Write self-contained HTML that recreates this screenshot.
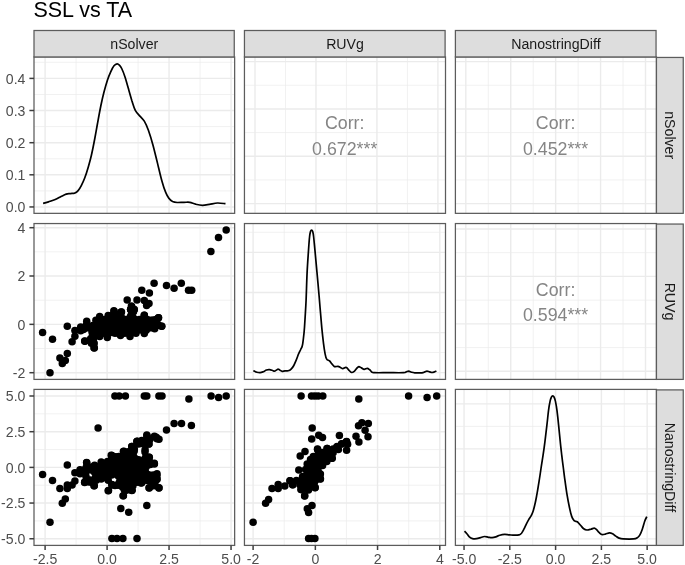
<!DOCTYPE html>
<html lang="en"><head><meta charset="utf-8"><title>SSL vs TA</title>
<style>html,body{margin:0;padding:0;background:#fff}svg{display:block}text{font-family:"Liberation Sans", Arial, Helvetica, sans-serif}
.ax{font-size:14.1px;fill:#4D4D4D}.st{font-size:14.15px;fill:#1A1A1A}.co{font-size:17.8px;fill:#858585}.ti{font-size:21.5px;fill:#000}
.gM{stroke:#EBEBEB;stroke-width:1.4}.gm{stroke:#EBEBEB;stroke-width:0.7}.tk{stroke:#3d3d3d;stroke-width:1.5}.bd{fill:none;stroke:#5c5c5c;stroke-width:1.25}.sb{fill:#DDDDDD;stroke:#5c5c5c;stroke-width:1.25}.cv{fill:none;stroke:#000;stroke-width:1.7;stroke-linejoin:round;stroke-linecap:butt}.pt circle{r:3.75px}
</style></head><body>
<svg width="685" height="565" viewBox="0 0 685 565">
<g>
<rect width="685" height="565" fill="#fff"/>
<text class="ti" x="33.4" y="17.2">SSL vs TA</text>
<g>
<rect x="34.00" y="56.95" width="200.65" height="156.40" fill="#fff"/>
<line class="gm" x1="34.00" x2="234.65" y1="190.90" y2="190.90"/>
<line class="gm" x1="34.00" x2="234.65" y1="158.75" y2="158.75"/>
<line class="gm" x1="34.00" x2="234.65" y1="126.60" y2="126.60"/>
<line class="gm" x1="34.00" x2="234.65" y1="94.50" y2="94.50"/>
<line class="gm" x1="34.00" x2="234.65" y1="62.30" y2="62.30"/>
<line class="gm" x1="76.10" x2="76.10" y1="56.95" y2="213.35"/>
<line class="gm" x1="138.10" x2="138.10" y1="56.95" y2="213.35"/>
<line class="gm" x1="200.05" x2="200.05" y1="56.95" y2="213.35"/>
<line class="gM" x1="34.00" x2="234.65" y1="206.95" y2="206.95"/>
<line class="gM" x1="34.00" x2="234.65" y1="174.80" y2="174.80"/>
<line class="gM" x1="34.00" x2="234.65" y1="142.70" y2="142.70"/>
<line class="gM" x1="34.00" x2="234.65" y1="110.50" y2="110.50"/>
<line class="gM" x1="34.00" x2="234.65" y1="78.40" y2="78.40"/>
<line class="gM" x1="45.10" x2="45.10" y1="56.95" y2="213.35"/>
<line class="gM" x1="107.10" x2="107.10" y1="56.95" y2="213.35"/>
<line class="gM" x1="169.05" x2="169.05" y1="56.95" y2="213.35"/>
<line class="gM" x1="231.05" x2="231.05" y1="56.95" y2="213.35"/>
<path class="cv" d="M43.1 203.4C44.0 203.2 46.5 202.6 48.5 201.9C50.5 201.2 53.1 200.4 55.2 199.5C57.3 198.6 59.3 197.4 61.1 196.5C62.9 195.6 64.7 194.6 66.2 194.1C67.8 193.6 69.0 193.8 70.4 193.6C71.8 193.4 73.3 193.5 74.6 193.1C75.8 192.7 76.8 192.2 77.9 190.9C79.0 189.7 80.2 187.8 81.3 185.6C82.4 183.4 83.6 180.9 84.7 178.0C85.8 175.1 86.9 171.7 88.0 167.9C89.1 164.1 90.3 160.2 91.4 155.3C92.5 150.4 93.8 143.8 94.8 138.5C95.8 133.2 96.5 129.0 97.5 123.5C98.5 118.0 99.8 110.8 100.9 105.5C102.0 100.2 102.9 96.2 104.0 92.0C105.1 87.8 106.3 83.6 107.4 80.2C108.5 76.8 109.6 74.2 110.7 71.8C111.8 69.4 112.9 67.1 114.0 65.8C115.1 64.5 116.2 64.0 117.1 63.9C118.0 63.8 118.8 64.5 119.6 65.3C120.4 66.1 120.8 66.6 121.7 68.5C122.6 70.4 123.9 73.6 125.0 76.9C126.1 80.2 127.3 84.7 128.4 88.6C129.5 92.5 130.7 96.8 131.8 100.4C133.0 104.0 133.9 107.6 135.3 110.3C136.7 113.0 138.7 114.6 140.2 116.4C141.7 118.2 142.9 118.8 144.3 121.1C145.7 123.4 147.0 126.3 148.4 130.3C149.8 134.3 151.5 139.6 153.0 145.2C154.5 150.8 156.1 157.4 157.6 163.6C159.1 169.8 160.8 177.3 162.2 182.1C163.5 186.9 164.5 189.7 165.7 192.4C166.8 195.2 167.9 197.1 169.1 198.6C170.2 200.1 171.2 200.9 172.6 201.6C173.9 202.2 175.3 202.4 177.2 202.5C179.1 202.6 182.0 202.3 184.1 202.3C186.2 202.3 187.9 202.0 189.8 202.3C191.7 202.6 193.5 203.7 195.6 204.2C197.7 204.7 200.2 205.3 202.5 205.3C204.8 205.3 206.9 204.8 209.4 204.4C211.9 204.0 214.8 203.1 217.5 203.0C220.2 202.9 224.2 203.6 225.5 203.7"/>
<rect class="bd" x="34.00" y="56.95" width="200.65" height="156.40"/>
</g>
<g>
<rect x="244.45" y="56.95" width="201.05" height="156.40" fill="#fff"/>
<line class="gm" x1="244.45" x2="445.50" y1="85.27" y2="85.27"/>
<line class="gm" x1="244.45" x2="445.50" y1="132.60" y2="132.60"/>
<line class="gm" x1="244.45" x2="445.50" y1="179.93" y2="179.93"/>
<line class="gm" x1="285.48" x2="285.48" y1="56.95" y2="213.35"/>
<line class="gm" x1="346.45" x2="346.45" y1="56.95" y2="213.35"/>
<line class="gm" x1="407.42" x2="407.42" y1="56.95" y2="213.35"/>
<line class="gM" x1="244.45" x2="445.50" y1="61.60" y2="61.60"/>
<line class="gM" x1="244.45" x2="445.50" y1="108.93" y2="108.93"/>
<line class="gM" x1="244.45" x2="445.50" y1="156.27" y2="156.27"/>
<line class="gM" x1="244.45" x2="445.50" y1="203.60" y2="203.60"/>
<line class="gM" x1="255.00" x2="255.00" y1="56.95" y2="213.35"/>
<line class="gM" x1="315.97" x2="315.97" y1="56.95" y2="213.35"/>
<line class="gM" x1="376.93" x2="376.93" y1="56.95" y2="213.35"/>
<line class="gM" x1="437.90" x2="437.90" y1="56.95" y2="213.35"/>
<text class="co" text-anchor="middle" x="344.7" y="129.2">Corr:</text>
<text class="co" text-anchor="middle" x="344.7" y="154.7">0.672***</text>
<rect class="bd" x="244.45" y="56.95" width="201.05" height="156.40"/>
</g>
<g>
<rect x="455.40" y="56.95" width="201.05" height="156.40" fill="#fff"/>
<line class="gm" x1="455.40" x2="656.45" y1="85.27" y2="85.27"/>
<line class="gm" x1="455.40" x2="656.45" y1="132.60" y2="132.60"/>
<line class="gm" x1="455.40" x2="656.45" y1="179.93" y2="179.93"/>
<line class="gm" x1="488.26" x2="488.26" y1="56.95" y2="213.35"/>
<line class="gm" x1="533.19" x2="533.19" y1="56.95" y2="213.35"/>
<line class="gm" x1="578.11" x2="578.11" y1="56.95" y2="213.35"/>
<line class="gm" x1="623.04" x2="623.04" y1="56.95" y2="213.35"/>
<line class="gM" x1="455.40" x2="656.45" y1="61.60" y2="61.60"/>
<line class="gM" x1="455.40" x2="656.45" y1="108.93" y2="108.93"/>
<line class="gM" x1="455.40" x2="656.45" y1="156.27" y2="156.27"/>
<line class="gM" x1="455.40" x2="656.45" y1="203.60" y2="203.60"/>
<line class="gM" x1="465.80" x2="465.80" y1="56.95" y2="213.35"/>
<line class="gM" x1="510.73" x2="510.73" y1="56.95" y2="213.35"/>
<line class="gM" x1="555.65" x2="555.65" y1="56.95" y2="213.35"/>
<line class="gM" x1="600.58" x2="600.58" y1="56.95" y2="213.35"/>
<line class="gM" x1="645.50" x2="645.50" y1="56.95" y2="213.35"/>
<text class="co" text-anchor="middle" x="555.6" y="129.2">Corr:</text>
<text class="co" text-anchor="middle" x="555.6" y="154.7">0.452***</text>
<rect class="bd" x="455.40" y="56.95" width="201.05" height="156.40"/>
</g>
<g>
<rect x="34.00" y="223.55" width="200.65" height="155.85" fill="#fff"/>
<line class="gm" x1="34.00" x2="234.65" y1="251.85" y2="251.85"/>
<line class="gm" x1="34.00" x2="234.65" y1="300.20" y2="300.20"/>
<line class="gm" x1="34.00" x2="234.65" y1="348.50" y2="348.50"/>
<line class="gm" x1="76.10" x2="76.10" y1="223.55" y2="379.40"/>
<line class="gm" x1="138.10" x2="138.10" y1="223.55" y2="379.40"/>
<line class="gm" x1="200.05" x2="200.05" y1="223.55" y2="379.40"/>
<line class="gM" x1="34.00" x2="234.65" y1="227.70" y2="227.70"/>
<line class="gM" x1="34.00" x2="234.65" y1="276.00" y2="276.00"/>
<line class="gM" x1="34.00" x2="234.65" y1="324.35" y2="324.35"/>
<line class="gM" x1="34.00" x2="234.65" y1="372.70" y2="372.70"/>
<line class="gM" x1="45.10" x2="45.10" y1="223.55" y2="379.40"/>
<line class="gM" x1="107.10" x2="107.10" y1="223.55" y2="379.40"/>
<line class="gM" x1="169.05" x2="169.05" y1="223.55" y2="379.40"/>
<line class="gM" x1="231.05" x2="231.05" y1="223.55" y2="379.40"/>
<g class="pt" fill="#000"><circle cx="133.5" cy="311.8" r="3.75"/><circle cx="113.2" cy="314.7" r="3.75"/><circle cx="116.2" cy="314.4" r="3.75"/><circle cx="119.2" cy="315.1" r="3.75"/><circle cx="131.2" cy="315.0" r="3.75"/><circle cx="109.2" cy="317.0" r="3.75"/><circle cx="112.2" cy="317.7" r="3.75"/><circle cx="115.2" cy="317.4" r="3.75"/><circle cx="118.2" cy="317.1" r="3.75"/><circle cx="121.2" cy="316.8" r="3.75"/><circle cx="130.2" cy="317.0" r="3.75"/><circle cx="133.2" cy="317.7" r="3.75"/><circle cx="102.0" cy="319.7" r="3.75"/><circle cx="105.0" cy="319.4" r="3.75"/><circle cx="108.0" cy="320.2" r="3.75"/><circle cx="111.0" cy="319.9" r="3.75"/><circle cx="114.0" cy="319.6" r="3.75"/><circle cx="117.0" cy="320.3" r="3.75"/><circle cx="120.0" cy="320.0" r="3.75"/><circle cx="123.0" cy="319.7" r="3.75"/><circle cx="129.0" cy="320.2" r="3.75"/><circle cx="132.0" cy="319.9" r="3.75"/><circle cx="135.0" cy="319.6" r="3.75"/><circle cx="144.0" cy="319.7" r="3.75"/><circle cx="147.0" cy="319.4" r="3.75"/><circle cx="150.0" cy="320.2" r="3.75"/><circle cx="153.0" cy="319.9" r="3.75"/><circle cx="156.0" cy="319.6" r="3.75"/><circle cx="96.8" cy="322.0" r="3.75"/><circle cx="99.8" cy="322.8" r="3.75"/><circle cx="102.8" cy="322.5" r="3.75"/><circle cx="105.8" cy="322.2" r="3.75"/><circle cx="108.8" cy="322.9" r="3.75"/><circle cx="111.8" cy="322.6" r="3.75"/><circle cx="114.8" cy="322.3" r="3.75"/><circle cx="117.8" cy="322.0" r="3.75"/><circle cx="120.8" cy="322.8" r="3.75"/><circle cx="123.8" cy="322.5" r="3.75"/><circle cx="126.8" cy="322.2" r="3.75"/><circle cx="129.8" cy="322.9" r="3.75"/><circle cx="132.8" cy="322.6" r="3.75"/><circle cx="135.8" cy="322.3" r="3.75"/><circle cx="138.8" cy="322.0" r="3.75"/><circle cx="141.8" cy="322.8" r="3.75"/><circle cx="144.8" cy="322.5" r="3.75"/><circle cx="147.8" cy="322.2" r="3.75"/><circle cx="150.8" cy="322.9" r="3.75"/><circle cx="153.8" cy="322.6" r="3.75"/><circle cx="156.8" cy="322.3" r="3.75"/><circle cx="92.7" cy="325.5" r="3.75"/><circle cx="95.7" cy="325.2" r="3.75"/><circle cx="98.7" cy="324.9" r="3.75"/><circle cx="101.7" cy="324.6" r="3.75"/><circle cx="104.7" cy="325.4" r="3.75"/><circle cx="107.7" cy="325.1" r="3.75"/><circle cx="110.7" cy="324.8" r="3.75"/><circle cx="113.7" cy="325.5" r="3.75"/><circle cx="116.7" cy="325.2" r="3.75"/><circle cx="119.7" cy="324.9" r="3.75"/><circle cx="122.7" cy="324.6" r="3.75"/><circle cx="125.7" cy="325.4" r="3.75"/><circle cx="128.7" cy="325.1" r="3.75"/><circle cx="131.7" cy="324.8" r="3.75"/><circle cx="134.7" cy="325.5" r="3.75"/><circle cx="137.7" cy="325.2" r="3.75"/><circle cx="140.7" cy="324.9" r="3.75"/><circle cx="143.7" cy="324.6" r="3.75"/><circle cx="146.7" cy="325.4" r="3.75"/><circle cx="149.7" cy="325.1" r="3.75"/><circle cx="152.7" cy="324.8" r="3.75"/><circle cx="155.7" cy="325.5" r="3.75"/><circle cx="158.7" cy="325.2" r="3.75"/><circle cx="85.5" cy="328.1" r="3.75"/><circle cx="88.5" cy="327.8" r="3.75"/><circle cx="91.5" cy="327.5" r="3.75"/><circle cx="94.5" cy="327.2" r="3.75"/><circle cx="97.5" cy="328.0" r="3.75"/><circle cx="100.5" cy="327.7" r="3.75"/><circle cx="103.5" cy="327.4" r="3.75"/><circle cx="106.5" cy="328.1" r="3.75"/><circle cx="109.5" cy="327.8" r="3.75"/><circle cx="112.5" cy="327.5" r="3.75"/><circle cx="115.5" cy="327.2" r="3.75"/><circle cx="118.5" cy="328.0" r="3.75"/><circle cx="121.5" cy="327.7" r="3.75"/><circle cx="124.5" cy="327.4" r="3.75"/><circle cx="127.5" cy="328.1" r="3.75"/><circle cx="130.5" cy="327.8" r="3.75"/><circle cx="133.5" cy="327.5" r="3.75"/><circle cx="136.5" cy="327.2" r="3.75"/><circle cx="139.5" cy="328.0" r="3.75"/><circle cx="142.5" cy="327.7" r="3.75"/><circle cx="145.5" cy="327.4" r="3.75"/><circle cx="148.5" cy="328.1" r="3.75"/><circle cx="151.5" cy="327.8" r="3.75"/><circle cx="92.2" cy="330.4" r="3.75"/><circle cx="95.2" cy="330.1" r="3.75"/><circle cx="98.2" cy="329.8" r="3.75"/><circle cx="101.2" cy="330.6" r="3.75"/><circle cx="104.2" cy="330.3" r="3.75"/><circle cx="107.2" cy="330.0" r="3.75"/><circle cx="110.2" cy="330.7" r="3.75"/><circle cx="113.2" cy="330.4" r="3.75"/><circle cx="116.2" cy="330.1" r="3.75"/><circle cx="119.2" cy="329.8" r="3.75"/><circle cx="122.2" cy="330.6" r="3.75"/><circle cx="125.2" cy="330.3" r="3.75"/><circle cx="128.2" cy="330.0" r="3.75"/><circle cx="131.2" cy="330.7" r="3.75"/><circle cx="134.2" cy="330.4" r="3.75"/><circle cx="137.2" cy="330.1" r="3.75"/><circle cx="140.2" cy="329.8" r="3.75"/><circle cx="143.2" cy="330.6" r="3.75"/><circle cx="146.2" cy="330.3" r="3.75"/><circle cx="94.0" cy="333.2" r="3.75"/><circle cx="97.0" cy="332.9" r="3.75"/><circle cx="100.0" cy="332.6" r="3.75"/><circle cx="103.0" cy="333.3" r="3.75"/><circle cx="106.0" cy="333.0" r="3.75"/><circle cx="109.0" cy="332.7" r="3.75"/><circle cx="112.0" cy="332.4" r="3.75"/><circle cx="115.0" cy="333.2" r="3.75"/><circle cx="118.0" cy="332.9" r="3.75"/><circle cx="121.0" cy="332.6" r="3.75"/><circle cx="124.0" cy="333.3" r="3.75"/><circle cx="127.0" cy="333.0" r="3.75"/><circle cx="130.0" cy="332.7" r="3.75"/><circle cx="133.0" cy="332.4" r="3.75"/><circle cx="136.0" cy="333.2" r="3.75"/><circle cx="93.0" cy="335.3" r="3.75"/><circle cx="96.0" cy="335.0" r="3.75"/><circle cx="90.8" cy="338.4" r="3.75"/><circle cx="93.8" cy="338.1" r="3.75"/><circle cx="89.5" cy="340.5" r="3.75"/><circle cx="92.5" cy="340.2" r="3.75"/><circle cx="91.4" cy="343.3" r="3.75"/><circle cx="80.7" cy="326.9" r="3.75"/><circle cx="86.4" cy="325.0" r="3.75"/><circle cx="95.9" cy="320.3" r="3.75"/><circle cx="99.7" cy="316.5" r="3.75"/><circle cx="108.2" cy="315.5" r="3.75"/><circle cx="113.9" cy="310.8" r="3.75"/><circle cx="121.5" cy="312.1" r="3.75"/><circle cx="125.4" cy="319.5" r="3.75"/><circle cx="130.6" cy="309.6" r="3.75"/><circle cx="134.2" cy="309.5" r="3.75"/><circle cx="139.3" cy="319.6" r="3.75"/><circle cx="144.3" cy="315.2" r="3.75"/><circle cx="158.5" cy="317.8" r="3.75"/><circle cx="161.7" cy="326.2" r="3.75"/><circle cx="154.7" cy="328.8" r="3.75"/><circle cx="144.3" cy="333.6" r="3.75"/><circle cx="130.0" cy="336.4" r="3.75"/><circle cx="120.5" cy="335.5" r="3.75"/><circle cx="107.3" cy="337.4" r="3.75"/><circle cx="99.7" cy="336.4" r="3.75"/><circle cx="94.0" cy="343.1" r="3.75"/><circle cx="94.0" cy="347.8" r="3.75"/><circle cx="84.9" cy="341.2" r="3.75"/><circle cx="92.1" cy="332.6" r="3.75"/><circle cx="80.7" cy="330.7" r="3.75"/><circle cx="42.6" cy="332.4" r="3.75"/><circle cx="52.5" cy="339.3" r="3.75"/><circle cx="67.3" cy="326.2" r="3.75"/><circle cx="74.9" cy="330.4" r="3.75"/><circle cx="74.9" cy="336.3" r="3.75"/><circle cx="72.1" cy="341.8" r="3.75"/><circle cx="67.3" cy="353.6" r="3.75"/><circle cx="59.9" cy="358.1" r="3.75"/><circle cx="65.3" cy="360.6" r="3.75"/><circle cx="62.3" cy="363.5" r="3.75"/><circle cx="50.0" cy="372.8" r="3.75"/><circle cx="86.7" cy="321.3" r="3.75"/><circle cx="83.5" cy="329.5" r="3.75"/><circle cx="84.7" cy="341.0" r="3.75"/><circle cx="94.3" cy="348.0" r="3.75"/><circle cx="93.9" cy="343.8" r="3.75"/><circle cx="127.2" cy="300.1" r="3.75"/><circle cx="137.0" cy="300.1" r="3.75"/><circle cx="131.8" cy="306.8" r="3.75"/><circle cx="114.1" cy="311.5" r="3.75"/><circle cx="154.1" cy="283.3" r="3.75"/><circle cx="166.5" cy="285.6" r="3.75"/><circle cx="174.1" cy="288.2" r="3.75"/><circle cx="181.3" cy="283.3" r="3.75"/><circle cx="188.5" cy="290.3" r="3.75"/><circle cx="191.7" cy="290.3" r="3.75"/><circle cx="141.8" cy="290.3" r="3.75"/><circle cx="149.4" cy="293.0" r="3.75"/><circle cx="144.3" cy="300.4" r="3.75"/><circle cx="149.0" cy="303.6" r="3.75"/><circle cx="146.6" cy="305.5" r="3.75"/><circle cx="131.4" cy="306.1" r="3.75"/><circle cx="134.2" cy="309.5" r="3.75"/><circle cx="130.6" cy="309.6" r="3.75"/><circle cx="121.1" cy="312.1" r="3.75"/><circle cx="144.3" cy="315.2" r="3.75"/><circle cx="158.5" cy="317.8" r="3.75"/><circle cx="161.7" cy="326.2" r="3.75"/><circle cx="226.2" cy="230.1" r="3.75"/><circle cx="218.5" cy="237.5" r="3.75"/><circle cx="210.9" cy="251.6" r="3.75"/></g>
<rect class="bd" x="34.00" y="223.55" width="200.65" height="155.85"/>
</g>
<g>
<rect x="244.45" y="223.55" width="201.05" height="155.85" fill="#fff"/>
<line class="gm" x1="244.45" x2="445.50" y1="352.50" y2="352.50"/>
<line class="gm" x1="244.45" x2="445.50" y1="312.50" y2="312.50"/>
<line class="gm" x1="244.45" x2="445.50" y1="272.40" y2="272.40"/>
<line class="gm" x1="244.45" x2="445.50" y1="232.30" y2="232.30"/>
<line class="gm" x1="284.20" x2="284.20" y1="223.55" y2="379.40"/>
<line class="gm" x1="346.45" x2="346.45" y1="223.55" y2="379.40"/>
<line class="gm" x1="408.70" x2="408.70" y1="223.55" y2="379.40"/>
<line class="gM" x1="244.45" x2="445.50" y1="372.60" y2="372.60"/>
<line class="gM" x1="244.45" x2="445.50" y1="332.60" y2="332.60"/>
<line class="gM" x1="244.45" x2="445.50" y1="292.50" y2="292.50"/>
<line class="gM" x1="244.45" x2="445.50" y1="252.40" y2="252.40"/>
<line class="gM" x1="253.10" x2="253.10" y1="223.55" y2="379.40"/>
<line class="gM" x1="315.35" x2="315.35" y1="223.55" y2="379.40"/>
<line class="gM" x1="377.55" x2="377.55" y1="223.55" y2="379.40"/>
<line class="gM" x1="439.80" x2="439.80" y1="223.55" y2="379.40"/>
<path class="cv" d="M253.3 370.7C253.9 371.0 255.8 372.0 256.9 372.3C258.0 372.6 259.0 372.8 260.1 372.7C261.2 372.6 262.2 372.2 263.3 371.8C264.4 371.4 265.4 370.4 266.5 370.0C267.6 369.6 268.8 369.6 269.7 369.7C270.6 369.8 271.3 370.1 272.1 370.3C272.9 370.5 273.8 371.2 274.5 371.1C275.2 371.1 276.0 370.3 276.6 370.0C277.2 369.7 277.6 369.1 278.2 369.2C278.8 369.2 279.5 369.9 280.1 370.3C280.8 370.7 281.3 371.2 282.1 371.3C282.9 371.4 284.0 370.9 285.0 370.8C286.0 370.7 287.2 371.1 288.2 370.8C289.2 370.5 290.2 370.0 291.1 369.1C292.0 368.2 293.0 367.0 293.8 365.5C294.6 364.0 295.4 362.1 296.2 360.2C297.0 358.2 297.9 355.6 298.6 353.8C299.4 352.0 300.1 350.8 300.7 349.5C301.3 348.2 301.9 347.6 302.3 345.8C302.8 344.0 303.0 341.6 303.4 338.5C303.8 335.4 304.2 331.6 304.5 327.3C304.8 323.0 305.1 317.4 305.4 312.8C305.7 308.2 305.8 306.7 306.1 300.0C306.4 293.3 306.7 280.6 307.1 272.6C307.5 264.6 308.0 257.9 308.4 251.9C308.8 245.9 309.2 239.9 309.6 236.5C310.0 233.1 310.3 232.3 310.6 231.2C310.9 230.1 311.3 230.0 311.6 230.0C311.9 230.0 312.3 230.1 312.6 231.2C312.9 232.3 313.2 233.1 313.6 236.5C314.0 239.9 314.5 245.9 315.1 251.9C315.7 257.9 316.3 265.2 317.0 272.6C317.7 280.0 318.5 289.3 319.1 296.0C319.7 302.7 320.0 307.3 320.5 312.8C321.0 318.3 321.4 323.8 321.9 328.9C322.4 334.0 323.0 339.2 323.5 343.4C324.0 347.5 324.6 351.2 325.1 353.8C325.6 356.4 325.9 357.9 326.7 359.1C327.4 360.3 328.7 360.2 329.6 361.0C330.5 361.8 331.1 363.0 331.9 363.9C332.7 364.8 333.4 366.2 334.4 366.6C335.4 367.0 337.0 366.2 338.0 366.3C339.0 366.4 339.6 367.0 340.4 367.4C341.2 367.8 341.9 368.6 342.8 368.6C343.8 368.6 345.1 367.1 346.1 367.4C347.1 367.6 347.9 369.2 348.8 370.1C349.7 371.0 350.7 372.3 351.6 372.5C352.6 372.7 353.6 371.8 354.5 371.1C355.4 370.4 356.2 368.9 356.9 368.2C357.6 367.4 358.1 366.7 358.9 366.6C359.6 366.6 360.5 367.4 361.4 367.9C362.3 368.3 363.1 369.2 364.1 369.3C365.1 369.4 366.4 368.2 367.3 368.3C368.2 368.4 368.9 369.2 369.7 369.8C370.5 370.4 371.3 371.7 372.1 372.2C372.9 372.7 371.8 372.6 374.5 372.7C377.2 372.8 383.4 372.7 388.2 372.7C393.0 372.7 400.4 372.8 403.4 372.7C406.4 372.6 405.3 372.2 406.2 371.9C407.1 371.6 407.8 371.1 408.7 371.1C409.6 371.2 410.5 371.9 411.5 372.2C412.5 372.5 413.0 372.7 414.7 372.8C416.4 372.9 420.2 373.0 421.9 372.8C423.6 372.6 423.9 372.2 424.8 371.9C425.7 371.6 426.2 371.1 427.0 371.1C427.8 371.1 428.8 371.7 429.6 371.9C430.4 372.1 431.1 372.5 431.9 372.5C432.7 372.5 433.6 372.2 434.4 371.9C435.1 371.6 436.1 371.1 436.4 370.9"/>
<rect class="bd" x="244.45" y="223.55" width="201.05" height="155.85"/>
</g>
<g>
<rect x="455.40" y="223.55" width="201.05" height="155.85" fill="#fff"/>
<line class="gm" x1="455.40" x2="656.45" y1="252.67" y2="252.67"/>
<line class="gm" x1="455.40" x2="656.45" y1="300.12" y2="300.12"/>
<line class="gm" x1="455.40" x2="656.45" y1="347.58" y2="347.58"/>
<line class="gm" x1="488.26" x2="488.26" y1="223.55" y2="379.40"/>
<line class="gm" x1="533.19" x2="533.19" y1="223.55" y2="379.40"/>
<line class="gm" x1="578.11" x2="578.11" y1="223.55" y2="379.40"/>
<line class="gm" x1="623.04" x2="623.04" y1="223.55" y2="379.40"/>
<line class="gM" x1="455.40" x2="656.45" y1="228.95" y2="228.95"/>
<line class="gM" x1="455.40" x2="656.45" y1="276.40" y2="276.40"/>
<line class="gM" x1="455.40" x2="656.45" y1="323.85" y2="323.85"/>
<line class="gM" x1="455.40" x2="656.45" y1="371.30" y2="371.30"/>
<line class="gM" x1="465.80" x2="465.80" y1="223.55" y2="379.40"/>
<line class="gM" x1="510.73" x2="510.73" y1="223.55" y2="379.40"/>
<line class="gM" x1="555.65" x2="555.65" y1="223.55" y2="379.40"/>
<line class="gM" x1="600.58" x2="600.58" y1="223.55" y2="379.40"/>
<line class="gM" x1="645.50" x2="645.50" y1="223.55" y2="379.40"/>
<text class="co" text-anchor="middle" x="555.6" y="295.6">Corr:</text>
<text class="co" text-anchor="middle" x="555.6" y="321.0">0.594***</text>
<rect class="bd" x="455.40" y="223.55" width="201.05" height="155.85"/>
</g>
<g>
<rect x="34.00" y="389.40" width="200.65" height="156.00" fill="#fff"/>
<line class="gm" x1="34.00" x2="234.65" y1="413.85" y2="413.85"/>
<line class="gm" x1="34.00" x2="234.65" y1="449.55" y2="449.55"/>
<line class="gm" x1="34.00" x2="234.65" y1="485.20" y2="485.20"/>
<line class="gm" x1="34.00" x2="234.65" y1="520.90" y2="520.90"/>
<line class="gm" x1="76.10" x2="76.10" y1="389.40" y2="545.40"/>
<line class="gm" x1="138.10" x2="138.10" y1="389.40" y2="545.40"/>
<line class="gm" x1="200.05" x2="200.05" y1="389.40" y2="545.40"/>
<line class="gM" x1="34.00" x2="234.65" y1="396.00" y2="396.00"/>
<line class="gM" x1="34.00" x2="234.65" y1="431.70" y2="431.70"/>
<line class="gM" x1="34.00" x2="234.65" y1="467.40" y2="467.40"/>
<line class="gM" x1="34.00" x2="234.65" y1="503.05" y2="503.05"/>
<line class="gM" x1="34.00" x2="234.65" y1="538.75" y2="538.75"/>
<line class="gM" x1="45.10" x2="45.10" y1="389.40" y2="545.40"/>
<line class="gM" x1="107.10" x2="107.10" y1="389.40" y2="545.40"/>
<line class="gM" x1="169.05" x2="169.05" y1="389.40" y2="545.40"/>
<line class="gM" x1="231.05" x2="231.05" y1="389.40" y2="545.40"/>
<g class="pt" fill="#000"><circle cx="147.1" cy="438.1" r="3.75"/><circle cx="150.1" cy="438.9" r="3.75"/><circle cx="145.8" cy="441.2" r="3.75"/><circle cx="148.8" cy="440.9" r="3.75"/><circle cx="138.7" cy="443.9" r="3.75"/><circle cx="141.7" cy="443.6" r="3.75"/><circle cx="144.7" cy="443.3" r="3.75"/><circle cx="132.3" cy="449.4" r="3.75"/><circle cx="128.2" cy="451.7" r="3.75"/><circle cx="131.2" cy="451.4" r="3.75"/><circle cx="134.2" cy="451.1" r="3.75"/><circle cx="124.0" cy="454.2" r="3.75"/><circle cx="127.0" cy="453.9" r="3.75"/><circle cx="129.9" cy="454.6" r="3.75"/><circle cx="132.9" cy="454.3" r="3.75"/><circle cx="112.8" cy="457.1" r="3.75"/><circle cx="115.8" cy="456.8" r="3.75"/><circle cx="118.8" cy="456.5" r="3.75"/><circle cx="121.8" cy="457.2" r="3.75"/><circle cx="124.8" cy="456.9" r="3.75"/><circle cx="127.8" cy="456.6" r="3.75"/><circle cx="130.8" cy="456.3" r="3.75"/><circle cx="133.8" cy="457.1" r="3.75"/><circle cx="145.8" cy="456.9" r="3.75"/><circle cx="111.7" cy="459.2" r="3.75"/><circle cx="114.7" cy="458.9" r="3.75"/><circle cx="117.7" cy="459.7" r="3.75"/><circle cx="120.7" cy="459.4" r="3.75"/><circle cx="123.7" cy="459.1" r="3.75"/><circle cx="126.7" cy="459.8" r="3.75"/><circle cx="129.7" cy="459.5" r="3.75"/><circle cx="132.7" cy="459.2" r="3.75"/><circle cx="135.7" cy="458.9" r="3.75"/><circle cx="138.7" cy="459.7" r="3.75"/><circle cx="144.7" cy="459.1" r="3.75"/><circle cx="147.7" cy="459.8" r="3.75"/><circle cx="107.5" cy="461.5" r="3.75"/><circle cx="110.5" cy="462.3" r="3.75"/><circle cx="113.5" cy="462.0" r="3.75"/><circle cx="116.5" cy="461.7" r="3.75"/><circle cx="119.5" cy="462.4" r="3.75"/><circle cx="122.5" cy="462.1" r="3.75"/><circle cx="125.5" cy="461.8" r="3.75"/><circle cx="128.4" cy="461.5" r="3.75"/><circle cx="131.4" cy="462.3" r="3.75"/><circle cx="134.4" cy="462.0" r="3.75"/><circle cx="137.4" cy="461.7" r="3.75"/><circle cx="140.4" cy="462.4" r="3.75"/><circle cx="143.4" cy="462.1" r="3.75"/><circle cx="146.4" cy="461.8" r="3.75"/><circle cx="149.4" cy="461.5" r="3.75"/><circle cx="102.3" cy="465.0" r="3.75"/><circle cx="105.3" cy="464.7" r="3.75"/><circle cx="108.3" cy="464.4" r="3.75"/><circle cx="111.3" cy="464.1" r="3.75"/><circle cx="114.3" cy="464.9" r="3.75"/><circle cx="117.3" cy="464.6" r="3.75"/><circle cx="120.3" cy="464.3" r="3.75"/><circle cx="123.3" cy="465.0" r="3.75"/><circle cx="126.3" cy="464.7" r="3.75"/><circle cx="129.3" cy="464.4" r="3.75"/><circle cx="132.3" cy="464.1" r="3.75"/><circle cx="135.3" cy="464.9" r="3.75"/><circle cx="138.3" cy="464.6" r="3.75"/><circle cx="141.3" cy="464.3" r="3.75"/><circle cx="144.3" cy="465.0" r="3.75"/><circle cx="147.3" cy="464.7" r="3.75"/><circle cx="150.3" cy="464.4" r="3.75"/><circle cx="86.2" cy="467.5" r="3.75"/><circle cx="89.2" cy="467.2" r="3.75"/><circle cx="92.2" cy="466.9" r="3.75"/><circle cx="95.2" cy="467.6" r="3.75"/><circle cx="98.2" cy="467.3" r="3.75"/><circle cx="101.2" cy="467.0" r="3.75"/><circle cx="104.2" cy="466.7" r="3.75"/><circle cx="107.2" cy="467.5" r="3.75"/><circle cx="110.2" cy="467.2" r="3.75"/><circle cx="113.2" cy="466.9" r="3.75"/><circle cx="116.2" cy="467.6" r="3.75"/><circle cx="119.2" cy="467.3" r="3.75"/><circle cx="122.2" cy="467.0" r="3.75"/><circle cx="125.2" cy="466.7" r="3.75"/><circle cx="128.2" cy="467.5" r="3.75"/><circle cx="131.2" cy="467.2" r="3.75"/><circle cx="134.2" cy="466.9" r="3.75"/><circle cx="137.2" cy="467.6" r="3.75"/><circle cx="140.2" cy="467.3" r="3.75"/><circle cx="143.2" cy="467.0" r="3.75"/><circle cx="146.2" cy="466.7" r="3.75"/><circle cx="85.0" cy="469.6" r="3.75"/><circle cx="88.0" cy="469.3" r="3.75"/><circle cx="91.0" cy="470.1" r="3.75"/><circle cx="94.0" cy="469.8" r="3.75"/><circle cx="97.0" cy="469.5" r="3.75"/><circle cx="100.0" cy="470.2" r="3.75"/><circle cx="103.0" cy="469.9" r="3.75"/><circle cx="106.0" cy="469.6" r="3.75"/><circle cx="109.0" cy="469.3" r="3.75"/><circle cx="112.0" cy="470.1" r="3.75"/><circle cx="115.0" cy="469.8" r="3.75"/><circle cx="118.0" cy="469.5" r="3.75"/><circle cx="121.0" cy="470.2" r="3.75"/><circle cx="124.0" cy="469.9" r="3.75"/><circle cx="127.0" cy="469.6" r="3.75"/><circle cx="129.9" cy="469.3" r="3.75"/><circle cx="132.9" cy="470.1" r="3.75"/><circle cx="135.9" cy="469.8" r="3.75"/><circle cx="138.9" cy="469.5" r="3.75"/><circle cx="141.9" cy="470.2" r="3.75"/><circle cx="144.9" cy="469.9" r="3.75"/><circle cx="82.7" cy="472.7" r="3.75"/><circle cx="85.7" cy="472.4" r="3.75"/><circle cx="94.7" cy="472.5" r="3.75"/><circle cx="97.7" cy="472.2" r="3.75"/><circle cx="100.7" cy="471.9" r="3.75"/><circle cx="103.7" cy="472.7" r="3.75"/><circle cx="106.7" cy="472.4" r="3.75"/><circle cx="109.7" cy="472.1" r="3.75"/><circle cx="112.7" cy="472.8" r="3.75"/><circle cx="115.7" cy="472.5" r="3.75"/><circle cx="118.7" cy="472.2" r="3.75"/><circle cx="121.7" cy="471.9" r="3.75"/><circle cx="124.7" cy="472.7" r="3.75"/><circle cx="127.7" cy="472.4" r="3.75"/><circle cx="130.7" cy="472.1" r="3.75"/><circle cx="133.7" cy="472.8" r="3.75"/><circle cx="136.7" cy="472.5" r="3.75"/><circle cx="139.7" cy="472.2" r="3.75"/><circle cx="142.7" cy="471.9" r="3.75"/><circle cx="145.7" cy="472.7" r="3.75"/><circle cx="96.7" cy="475.4" r="3.75"/><circle cx="99.7" cy="475.1" r="3.75"/><circle cx="102.7" cy="474.8" r="3.75"/><circle cx="105.7" cy="474.5" r="3.75"/><circle cx="108.7" cy="475.3" r="3.75"/><circle cx="111.7" cy="475.0" r="3.75"/><circle cx="117.7" cy="475.4" r="3.75"/><circle cx="120.7" cy="475.1" r="3.75"/><circle cx="123.7" cy="474.8" r="3.75"/><circle cx="126.7" cy="474.5" r="3.75"/><circle cx="129.7" cy="475.3" r="3.75"/><circle cx="132.7" cy="475.0" r="3.75"/><circle cx="135.7" cy="474.7" r="3.75"/><circle cx="138.7" cy="475.4" r="3.75"/><circle cx="141.7" cy="475.1" r="3.75"/><circle cx="144.7" cy="474.8" r="3.75"/><circle cx="147.7" cy="474.5" r="3.75"/><circle cx="150.7" cy="475.3" r="3.75"/><circle cx="153.7" cy="475.0" r="3.75"/><circle cx="95.5" cy="477.4" r="3.75"/><circle cx="98.5" cy="477.1" r="3.75"/><circle cx="104.5" cy="477.6" r="3.75"/><circle cx="107.5" cy="477.3" r="3.75"/><circle cx="119.5" cy="477.1" r="3.75"/><circle cx="122.5" cy="477.9" r="3.75"/><circle cx="125.5" cy="477.6" r="3.75"/><circle cx="128.4" cy="477.3" r="3.75"/><circle cx="131.4" cy="478.0" r="3.75"/><circle cx="134.4" cy="477.7" r="3.75"/><circle cx="137.4" cy="477.4" r="3.75"/><circle cx="140.4" cy="477.1" r="3.75"/><circle cx="143.4" cy="477.9" r="3.75"/><circle cx="146.4" cy="477.6" r="3.75"/><circle cx="149.4" cy="477.3" r="3.75"/><circle cx="152.4" cy="478.0" r="3.75"/><circle cx="155.4" cy="477.7" r="3.75"/><circle cx="87.2" cy="480.2" r="3.75"/><circle cx="90.2" cy="479.9" r="3.75"/><circle cx="93.2" cy="480.6" r="3.75"/><circle cx="96.2" cy="480.3" r="3.75"/><circle cx="108.2" cy="480.2" r="3.75"/><circle cx="120.2" cy="480.0" r="3.75"/><circle cx="123.2" cy="479.7" r="3.75"/><circle cx="126.2" cy="480.5" r="3.75"/><circle cx="129.2" cy="480.2" r="3.75"/><circle cx="132.2" cy="479.9" r="3.75"/><circle cx="135.2" cy="480.6" r="3.75"/><circle cx="138.2" cy="480.3" r="3.75"/><circle cx="141.2" cy="480.0" r="3.75"/><circle cx="144.2" cy="479.7" r="3.75"/><circle cx="147.2" cy="480.5" r="3.75"/><circle cx="153.2" cy="479.9" r="3.75"/><circle cx="92.0" cy="482.6" r="3.75"/><circle cx="119.0" cy="483.1" r="3.75"/><circle cx="122.0" cy="482.8" r="3.75"/><circle cx="125.0" cy="482.5" r="3.75"/><circle cx="128.0" cy="483.2" r="3.75"/><circle cx="131.0" cy="482.9" r="3.75"/><circle cx="134.0" cy="482.6" r="3.75"/><circle cx="137.0" cy="482.3" r="3.75"/><circle cx="155.0" cy="482.6" r="3.75"/><circle cx="115.0" cy="485.5" r="3.75"/><circle cx="118.0" cy="485.2" r="3.75"/><circle cx="121.0" cy="484.9" r="3.75"/><circle cx="127.0" cy="485.4" r="3.75"/><circle cx="129.9" cy="485.1" r="3.75"/><circle cx="132.9" cy="485.8" r="3.75"/><circle cx="153.9" cy="485.8" r="3.75"/><circle cx="124.7" cy="488.4" r="3.75"/><circle cx="127.7" cy="488.1" r="3.75"/><circle cx="130.7" cy="487.8" r="3.75"/><circle cx="126.5" cy="490.3" r="3.75"/><circle cx="80.0" cy="469.8" r="3.75"/><circle cx="86.6" cy="462.5" r="3.75"/><circle cx="94.6" cy="465.2" r="3.75"/><circle cx="101.2" cy="461.9" r="3.75"/><circle cx="111.2" cy="455.2" r="3.75"/><circle cx="123.8" cy="451.2" r="3.75"/><circle cx="131.8" cy="446.6" r="3.75"/><circle cx="137.1" cy="441.3" r="3.75"/><circle cx="141.7" cy="440.6" r="3.75"/><circle cx="147.0" cy="436.0" r="3.75"/><circle cx="156.3" cy="437.3" r="3.75"/><circle cx="159.0" cy="439.3" r="3.75"/><circle cx="149.0" cy="444.0" r="3.75"/><circle cx="145.0" cy="452.0" r="3.75"/><circle cx="149.0" cy="457.2" r="3.75"/><circle cx="154.3" cy="463.2" r="3.75"/><circle cx="157.0" cy="473.8" r="3.75"/><circle cx="157.0" cy="479.0" r="3.75"/><circle cx="159.0" cy="487.7" r="3.75"/><circle cx="149.0" cy="487.7" r="3.75"/><circle cx="152.3" cy="481.8" r="3.75"/><circle cx="141.0" cy="483.0" r="3.75"/><circle cx="131.8" cy="490.4" r="3.75"/><circle cx="123.1" cy="495.7" r="3.75"/><circle cx="122.5" cy="487.0" r="3.75"/><circle cx="108.5" cy="490.4" r="3.75"/><circle cx="111.9" cy="484.4" r="3.75"/><circle cx="101.2" cy="479.0" r="3.75"/><circle cx="94.0" cy="485.8" r="3.75"/><circle cx="84.6" cy="482.4" r="3.75"/><circle cx="86.0" cy="476.5" r="3.75"/><circle cx="80.0" cy="473.8" r="3.75"/><circle cx="114.9" cy="396.1" r="3.75"/><circle cx="119.2" cy="396.1" r="3.75"/><circle cx="125.4" cy="396.1" r="3.75"/><circle cx="98.1" cy="428.1" r="3.75"/><circle cx="137.0" cy="441.4" r="3.75"/><circle cx="67.3" cy="464.9" r="3.75"/><circle cx="42.6" cy="474.5" r="3.75"/><circle cx="86.7" cy="462.7" r="3.75"/><circle cx="74.9" cy="472.8" r="3.75"/><circle cx="131.8" cy="446.4" r="3.75"/><circle cx="134.3" cy="448.9" r="3.75"/><circle cx="111.9" cy="455.6" r="3.75"/><circle cx="101.5" cy="463.2" r="3.75"/><circle cx="123.4" cy="451.4" r="3.75"/><circle cx="52.5" cy="480.6" r="3.75"/><circle cx="74.9" cy="481.1" r="3.75"/><circle cx="72.1" cy="484.9" r="3.75"/><circle cx="67.3" cy="484.9" r="3.75"/><circle cx="67.3" cy="488.6" r="3.75"/><circle cx="59.9" cy="488.6" r="3.75"/><circle cx="65.3" cy="499.1" r="3.75"/><circle cx="62.3" cy="503.3" r="3.75"/><circle cx="50.0" cy="522.3" r="3.75"/><circle cx="83.5" cy="471.8" r="3.75"/><circle cx="84.7" cy="481.9" r="3.75"/><circle cx="88.9" cy="481.9" r="3.75"/><circle cx="94.3" cy="485.8" r="3.75"/><circle cx="108.2" cy="490.7" r="3.75"/><circle cx="111.9" cy="484.9" r="3.75"/><circle cx="121.7" cy="486.1" r="3.75"/><circle cx="124.2" cy="489.5" r="3.75"/><circle cx="131.8" cy="490.3" r="3.75"/><circle cx="123.4" cy="495.7" r="3.75"/><circle cx="120.8" cy="508.5" r="3.75"/><circle cx="128.7" cy="512.2" r="3.75"/><circle cx="111.9" cy="538.6" r="3.75"/><circle cx="117.0" cy="538.6" r="3.75"/><circle cx="122.9" cy="538.6" r="3.75"/><circle cx="137.0" cy="538.6" r="3.75"/><circle cx="144.3" cy="396.1" r="3.75"/><circle cx="146.8" cy="396.1" r="3.75"/><circle cx="158.9" cy="396.1" r="3.75"/><circle cx="162.0" cy="396.1" r="3.75"/><circle cx="188.9" cy="399.1" r="3.75"/><circle cx="211.1" cy="396.1" r="3.75"/><circle cx="218.6" cy="397.4" r="3.75"/><circle cx="226.2" cy="396.1" r="3.75"/><circle cx="174.1" cy="423.4" r="3.75"/><circle cx="181.5" cy="423.4" r="3.75"/><circle cx="191.4" cy="425.5" r="3.75"/><circle cx="166.5" cy="430.1" r="3.75"/><circle cx="146.8" cy="435.1" r="3.75"/><circle cx="154.4" cy="436.3" r="3.75"/><circle cx="156.9" cy="438.8" r="3.75"/><circle cx="137.1" cy="441.4" r="3.75"/><circle cx="142.1" cy="441.9" r="3.75"/><circle cx="148.8" cy="443.9" r="3.75"/><circle cx="133.4" cy="448.6" r="3.75"/><circle cx="145.1" cy="449.8" r="3.75"/><circle cx="149.3" cy="457.3" r="3.75"/><circle cx="154.4" cy="464.1" r="3.75"/><circle cx="156.9" cy="475.8" r="3.75"/><circle cx="156.1" cy="475.2" r="3.75"/><circle cx="156.9" cy="479.4" r="3.75"/><circle cx="158.9" cy="488.0" r="3.75"/><circle cx="149.3" cy="488.0" r="3.75"/><circle cx="141.8" cy="482.8" r="3.75"/><circle cx="132.0" cy="490.3" r="3.75"/><circle cx="146.8" cy="505.5" r="3.75"/></g>
<rect class="bd" x="34.00" y="389.40" width="200.65" height="156.00"/>
</g>
<g>
<rect x="244.45" y="389.40" width="201.05" height="156.00" fill="#fff"/>
<line class="gm" x1="244.45" x2="445.50" y1="413.85" y2="413.85"/>
<line class="gm" x1="244.45" x2="445.50" y1="449.55" y2="449.55"/>
<line class="gm" x1="244.45" x2="445.50" y1="485.20" y2="485.20"/>
<line class="gm" x1="244.45" x2="445.50" y1="520.90" y2="520.90"/>
<line class="gm" x1="284.20" x2="284.20" y1="389.40" y2="545.40"/>
<line class="gm" x1="346.45" x2="346.45" y1="389.40" y2="545.40"/>
<line class="gm" x1="408.70" x2="408.70" y1="389.40" y2="545.40"/>
<line class="gM" x1="244.45" x2="445.50" y1="396.00" y2="396.00"/>
<line class="gM" x1="244.45" x2="445.50" y1="431.70" y2="431.70"/>
<line class="gM" x1="244.45" x2="445.50" y1="467.40" y2="467.40"/>
<line class="gM" x1="244.45" x2="445.50" y1="503.05" y2="503.05"/>
<line class="gM" x1="244.45" x2="445.50" y1="538.75" y2="538.75"/>
<line class="gM" x1="253.10" x2="253.10" y1="389.40" y2="545.40"/>
<line class="gM" x1="315.35" x2="315.35" y1="389.40" y2="545.40"/>
<line class="gM" x1="377.55" x2="377.55" y1="389.40" y2="545.40"/>
<line class="gM" x1="439.80" x2="439.80" y1="389.40" y2="545.40"/>
<g class="pt" fill="#000"><circle cx="326.3" cy="451.9" r="3.75"/><circle cx="329.3" cy="452.6" r="3.75"/><circle cx="318.1" cy="454.6" r="3.75"/><circle cx="321.1" cy="454.3" r="3.75"/><circle cx="324.1" cy="455.1" r="3.75"/><circle cx="327.1" cy="454.8" r="3.75"/><circle cx="330.1" cy="454.5" r="3.75"/><circle cx="317.0" cy="457.7" r="3.75"/><circle cx="320.0" cy="457.4" r="3.75"/><circle cx="323.0" cy="457.1" r="3.75"/><circle cx="326.0" cy="457.8" r="3.75"/><circle cx="329.0" cy="457.5" r="3.75"/><circle cx="315.8" cy="459.8" r="3.75"/><circle cx="318.8" cy="459.5" r="3.75"/><circle cx="321.8" cy="460.3" r="3.75"/><circle cx="324.8" cy="460.0" r="3.75"/><circle cx="310.6" cy="462.1" r="3.75"/><circle cx="313.6" cy="462.9" r="3.75"/><circle cx="316.6" cy="462.6" r="3.75"/><circle cx="319.6" cy="462.3" r="3.75"/><circle cx="309.4" cy="465.3" r="3.75"/><circle cx="312.4" cy="465.0" r="3.75"/><circle cx="315.4" cy="464.7" r="3.75"/><circle cx="318.4" cy="465.5" r="3.75"/><circle cx="311.3" cy="468.1" r="3.75"/><circle cx="314.3" cy="467.8" r="3.75"/><circle cx="317.3" cy="467.5" r="3.75"/><circle cx="309.1" cy="470.2" r="3.75"/><circle cx="312.1" cy="469.9" r="3.75"/><circle cx="315.1" cy="470.7" r="3.75"/><circle cx="318.1" cy="470.4" r="3.75"/><circle cx="307.9" cy="473.3" r="3.75"/><circle cx="310.9" cy="473.0" r="3.75"/><circle cx="313.9" cy="472.7" r="3.75"/><circle cx="316.9" cy="473.4" r="3.75"/><circle cx="306.6" cy="475.4" r="3.75"/><circle cx="309.6" cy="475.1" r="3.75"/><circle cx="312.6" cy="475.9" r="3.75"/><circle cx="315.6" cy="475.6" r="3.75"/><circle cx="304.6" cy="478.5" r="3.75"/><circle cx="307.6" cy="478.2" r="3.75"/><circle cx="310.6" cy="477.9" r="3.75"/><circle cx="313.6" cy="478.6" r="3.75"/><circle cx="316.6" cy="478.3" r="3.75"/><circle cx="300.4" cy="480.9" r="3.75"/><circle cx="303.4" cy="480.6" r="3.75"/><circle cx="306.4" cy="480.3" r="3.75"/><circle cx="309.4" cy="481.1" r="3.75"/><circle cx="312.4" cy="480.8" r="3.75"/><circle cx="315.4" cy="480.5" r="3.75"/><circle cx="302.1" cy="483.7" r="3.75"/><circle cx="305.1" cy="483.4" r="3.75"/><circle cx="308.1" cy="483.1" r="3.75"/><circle cx="311.1" cy="483.8" r="3.75"/><circle cx="314.1" cy="483.5" r="3.75"/><circle cx="303.1" cy="485.5" r="3.75"/><circle cx="306.1" cy="486.3" r="3.75"/><circle cx="309.1" cy="486.0" r="3.75"/><circle cx="312.1" cy="485.7" r="3.75"/><circle cx="304.9" cy="488.3" r="3.75"/><circle cx="310.5" cy="459.5" r="3.75"/><circle cx="313.3" cy="456.6" r="3.75"/><circle cx="317.6" cy="449.6" r="3.75"/><circle cx="322.3" cy="452.6" r="3.75"/><circle cx="327.1" cy="448.6" r="3.75"/><circle cx="333.1" cy="448.9" r="3.75"/><circle cx="337.1" cy="446.4" r="3.75"/><circle cx="341.7" cy="443.8" r="3.75"/><circle cx="346.4" cy="441.8" r="3.75"/><circle cx="347.6" cy="444.2" r="3.75"/><circle cx="338.4" cy="449.6" r="3.75"/><circle cx="333.1" cy="452.8" r="3.75"/><circle cx="332.2" cy="458.2" r="3.75"/><circle cx="326.8" cy="461.6" r="3.75"/><circle cx="322.6" cy="465.6" r="3.75"/><circle cx="320.4" cy="474.0" r="3.75"/><circle cx="320.4" cy="478.8" r="3.75"/><circle cx="315.2" cy="487.4" r="3.75"/><circle cx="308.5" cy="490.0" r="3.75"/><circle cx="304.6" cy="496.0" r="3.75"/><circle cx="301.2" cy="489.4" r="3.75"/><circle cx="299.9" cy="484.7" r="3.75"/><circle cx="292.6" cy="484.7" r="3.75"/><circle cx="290.0" cy="480.8" r="3.75"/><circle cx="296.4" cy="480.6" r="3.75"/><circle cx="302.6" cy="476.4" r="3.75"/><circle cx="305.6" cy="469.6" r="3.75"/><circle cx="307.2" cy="464.0" r="3.75"/><circle cx="301.1" cy="396.1" r="3.75"/><circle cx="311.5" cy="396.1" r="3.75"/><circle cx="314.9" cy="396.1" r="3.75"/><circle cx="318.2" cy="396.1" r="3.75"/><circle cx="322.8" cy="396.1" r="3.75"/><circle cx="312.2" cy="427.9" r="3.75"/><circle cx="318.7" cy="435.2" r="3.75"/><circle cx="322.5" cy="437.6" r="3.75"/><circle cx="311.7" cy="439.0" r="3.75"/><circle cx="339.4" cy="435.5" r="3.75"/><circle cx="346.6" cy="441.5" r="3.75"/><circle cx="341.7" cy="443.9" r="3.75"/><circle cx="346.6" cy="450.3" r="3.75"/><circle cx="336.9" cy="447.0" r="3.75"/><circle cx="327.1" cy="448.4" r="3.75"/><circle cx="317.5" cy="449.1" r="3.75"/><circle cx="305.0" cy="451.6" r="3.75"/><circle cx="300.2" cy="456.1" r="3.75"/><circle cx="332.0" cy="458.2" r="3.75"/><circle cx="298.8" cy="470.0" r="3.75"/><circle cx="290.0" cy="480.8" r="3.75"/><circle cx="253.1" cy="522.3" r="3.75"/><circle cx="265.6" cy="503.3" r="3.75"/><circle cx="268.6" cy="499.6" r="3.75"/><circle cx="272.0" cy="488.6" r="3.75"/><circle cx="278.2" cy="484.4" r="3.75"/><circle cx="278.2" cy="488.6" r="3.75"/><circle cx="284.8" cy="486.1" r="3.75"/><circle cx="292.8" cy="484.8" r="3.75"/><circle cx="301.0" cy="489.4" r="3.75"/><circle cx="304.7" cy="495.8" r="3.75"/><circle cx="315.0" cy="487.7" r="3.75"/><circle cx="320.4" cy="479.1" r="3.75"/><circle cx="312.0" cy="505.5" r="3.75"/><circle cx="307.3" cy="508.8" r="3.75"/><circle cx="308.6" cy="512.5" r="3.75"/><circle cx="308.6" cy="538.6" r="3.75"/><circle cx="311.5" cy="538.6" r="3.75"/><circle cx="314.9" cy="538.6" r="3.75"/><circle cx="358.8" cy="399.1" r="3.75"/><circle cx="408.6" cy="396.1" r="3.75"/><circle cx="427.1" cy="397.4" r="3.75"/><circle cx="436.7" cy="396.1" r="3.75"/><circle cx="361.9" cy="422.8" r="3.75"/><circle cx="368.3" cy="423.4" r="3.75"/><circle cx="358.5" cy="425.8" r="3.75"/><circle cx="365.1" cy="430.2" r="3.75"/><circle cx="368.0" cy="436.8" r="3.75"/><circle cx="356.0" cy="436.2" r="3.75"/><circle cx="358.9" cy="442.0" r="3.75"/></g>
<rect class="bd" x="244.45" y="389.40" width="201.05" height="156.00"/>
</g>
<g>
<rect x="455.40" y="389.40" width="201.05" height="156.00" fill="#fff"/>
<line class="gm" x1="455.40" x2="656.45" y1="516.40" y2="516.40"/>
<line class="gm" x1="455.40" x2="656.45" y1="471.40" y2="471.40"/>
<line class="gm" x1="455.40" x2="656.45" y1="426.40" y2="426.40"/>
<line class="gm" x1="486.90" x2="486.90" y1="389.40" y2="545.40"/>
<line class="gm" x1="532.70" x2="532.70" y1="389.40" y2="545.40"/>
<line class="gm" x1="578.50" x2="578.50" y1="389.40" y2="545.40"/>
<line class="gm" x1="624.30" x2="624.30" y1="389.40" y2="545.40"/>
<line class="gM" x1="455.40" x2="656.45" y1="538.90" y2="538.90"/>
<line class="gM" x1="455.40" x2="656.45" y1="493.90" y2="493.90"/>
<line class="gM" x1="455.40" x2="656.45" y1="448.90" y2="448.90"/>
<line class="gM" x1="455.40" x2="656.45" y1="403.90" y2="403.90"/>
<line class="gM" x1="464.05" x2="464.05" y1="389.40" y2="545.40"/>
<line class="gM" x1="509.80" x2="509.80" y1="389.40" y2="545.40"/>
<line class="gM" x1="555.60" x2="555.60" y1="389.40" y2="545.40"/>
<line class="gM" x1="601.40" x2="601.40" y1="389.40" y2="545.40"/>
<line class="gM" x1="647.15" x2="647.15" y1="389.40" y2="545.40"/>
<path class="cv" d="M464.5 531.2C464.9 531.6 466.1 532.8 466.9 533.7C467.7 534.6 468.4 536.0 469.3 536.8C470.2 537.6 471.3 538.3 472.5 538.6C473.7 538.9 475.2 538.9 476.5 538.7C477.8 538.5 479.2 538.0 480.5 537.6C481.8 537.2 483.2 536.5 484.5 536.5C485.8 536.5 487.2 537.1 488.5 537.3C489.8 537.5 490.9 537.8 492.1 537.7C493.3 537.6 494.5 537.3 495.8 536.9C497.1 536.5 498.3 535.6 499.8 535.2C501.3 534.8 503.0 534.5 504.6 534.4C506.2 534.3 507.8 534.8 509.4 534.9C511.0 535.0 512.6 535.2 514.2 535.2C515.8 535.2 517.9 535.2 519.1 534.9C520.3 534.6 520.7 534.2 521.5 533.3C522.3 532.3 523.1 530.7 523.9 529.2C524.7 527.7 525.5 525.7 526.3 524.1C527.1 522.5 527.9 521.0 528.7 519.6C529.5 518.2 530.4 517.2 531.1 515.9C531.8 514.6 532.3 513.7 533.0 511.6C533.7 509.5 534.4 506.4 535.1 503.5C535.8 500.6 536.3 497.6 537.0 493.9C537.7 490.2 538.4 485.3 539.1 481.1C539.8 476.9 540.4 472.7 541.0 468.5C541.6 464.3 542.3 460.2 543.0 455.7C543.7 451.1 544.4 446.3 545.0 441.2C545.6 436.1 546.3 430.2 546.9 425.1C547.5 420.0 548.0 414.7 548.5 410.7C549.0 406.7 549.6 403.4 550.1 401.1C550.6 398.9 551.0 398.1 551.4 397.2C551.8 396.3 552.2 395.9 552.7 395.9C553.2 395.9 553.7 396.3 554.1 397.2C554.5 398.1 554.9 398.9 555.4 401.1C555.9 403.4 556.5 406.7 557.0 410.7C557.5 414.7 558.1 420.0 558.6 425.1C559.1 430.2 559.7 436.1 560.2 441.2C560.7 446.3 561.3 451.3 561.8 455.7C562.3 460.1 562.8 463.8 563.3 467.5C563.8 471.2 564.0 473.4 564.6 477.8C565.2 482.2 566.1 489.1 566.9 493.9C567.7 498.7 568.5 503.1 569.3 506.8C570.1 510.6 570.9 514.1 571.7 516.4C572.5 518.7 573.2 519.8 574.1 520.7C575.0 521.6 576.2 521.0 577.3 521.7C578.4 522.5 579.4 524.0 580.5 525.2C581.6 526.4 582.6 528.0 583.7 528.8C584.8 529.6 585.7 529.9 586.9 530.0C588.1 530.1 589.8 529.5 591.0 529.2C592.2 528.9 593.3 528.0 594.2 528.1C595.1 528.2 595.8 528.9 596.6 529.6C597.4 530.3 598.1 531.6 599.0 532.4C599.9 533.2 600.6 534.2 601.7 534.5C602.8 534.8 604.1 534.4 605.4 534.1C606.7 533.8 608.2 533.0 609.4 532.9C610.6 532.8 611.5 533.2 612.6 533.7C613.7 534.2 614.7 535.4 615.8 536.1C616.9 536.8 617.9 537.6 619.1 538.1C620.3 538.6 620.7 538.8 623.1 538.9C625.5 539.0 631.1 539.1 633.5 538.9C635.9 538.7 636.4 538.3 637.5 537.6C638.6 536.9 639.1 536.3 639.9 534.9C640.7 533.5 641.5 531.5 642.3 529.2C643.1 526.9 644.0 523.3 644.7 521.2C645.5 519.1 646.4 517.5 646.8 516.7"/>
<rect class="bd" x="455.40" y="389.40" width="201.05" height="156.00"/>
</g>
<rect class="sb" x="34.00" y="30.50" width="200.25" height="26.45"/>
<text class="st" text-anchor="middle" x="134.3" y="49.0">nSolver</text>
<rect class="sb" x="244.45" y="30.50" width="200.65" height="26.45"/>
<text class="st" text-anchor="middle" x="345.0" y="49.0">RUVg</text>
<rect class="sb" x="455.40" y="30.50" width="200.65" height="26.45"/>
<text class="st" text-anchor="middle" x="555.9" y="49.0">NanostringDiff</text>
<rect class="sb" x="656.45" y="57.45" width="26.80" height="155.90"/>
<text class="st" text-anchor="middle" transform="translate(664.9 135.2) rotate(90)">nSolver</text>
<rect class="sb" x="656.45" y="224.05" width="26.80" height="155.35"/>
<text class="st" text-anchor="middle" transform="translate(664.9 301.5) rotate(90)">RUVg</text>
<rect class="sb" x="656.45" y="389.90" width="26.80" height="155.50"/>
<text class="st" text-anchor="middle" transform="translate(664.9 467.4) rotate(90)">NanostringDiff</text>
<line class="tk" x1="29.40" x2="34.00" y1="206.95" y2="206.95"/>
<text class="ax" text-anchor="end" x="25.4" y="212.0">0.0</text>
<line class="tk" x1="29.40" x2="34.00" y1="174.80" y2="174.80"/>
<text class="ax" text-anchor="end" x="25.4" y="179.9">0.1</text>
<line class="tk" x1="29.40" x2="34.00" y1="142.70" y2="142.70"/>
<text class="ax" text-anchor="end" x="25.4" y="147.8">0.2</text>
<line class="tk" x1="29.40" x2="34.00" y1="110.50" y2="110.50"/>
<text class="ax" text-anchor="end" x="25.4" y="115.6">0.3</text>
<line class="tk" x1="29.40" x2="34.00" y1="78.40" y2="78.40"/>
<text class="ax" text-anchor="end" x="25.4" y="83.5">0.4</text>
<line class="tk" x1="29.40" x2="34.00" y1="372.70" y2="372.70"/>
<text class="ax" text-anchor="end" x="25.4" y="377.8">-2</text>
<line class="tk" x1="29.40" x2="34.00" y1="324.35" y2="324.35"/>
<text class="ax" text-anchor="end" x="25.4" y="329.5">0</text>
<line class="tk" x1="29.40" x2="34.00" y1="276.00" y2="276.00"/>
<text class="ax" text-anchor="end" x="25.4" y="281.1">2</text>
<line class="tk" x1="29.40" x2="34.00" y1="227.70" y2="227.70"/>
<text class="ax" text-anchor="end" x="25.4" y="232.8">4</text>
<line class="tk" x1="29.40" x2="34.00" y1="538.75" y2="538.75"/>
<text class="ax" text-anchor="end" x="25.4" y="543.9">-5.0</text>
<line class="tk" x1="29.40" x2="34.00" y1="503.05" y2="503.05"/>
<text class="ax" text-anchor="end" x="25.4" y="508.2">-2.5</text>
<line class="tk" x1="29.40" x2="34.00" y1="467.40" y2="467.40"/>
<text class="ax" text-anchor="end" x="25.4" y="472.5">0.0</text>
<line class="tk" x1="29.40" x2="34.00" y1="431.70" y2="431.70"/>
<text class="ax" text-anchor="end" x="25.4" y="436.8">2.5</text>
<line class="tk" x1="29.40" x2="34.00" y1="396.00" y2="396.00"/>
<text class="ax" text-anchor="end" x="25.4" y="401.1">5.0</text>
<line class="tk" x1="45.10" x2="45.10" y1="545.40" y2="550.00"/>
<text class="ax" text-anchor="middle" x="45.1" y="564.0">-2.5</text>
<line class="tk" x1="107.10" x2="107.10" y1="545.40" y2="550.00"/>
<text class="ax" text-anchor="middle" x="107.1" y="564.0">0.0</text>
<line class="tk" x1="169.05" x2="169.05" y1="545.40" y2="550.00"/>
<text class="ax" text-anchor="middle" x="169.1" y="564.0">2.5</text>
<line class="tk" x1="231.05" x2="231.05" y1="545.40" y2="550.00"/>
<text class="ax" text-anchor="middle" x="231.1" y="564.0">5.0</text>
<line class="tk" x1="253.10" x2="253.10" y1="545.40" y2="550.00"/>
<text class="ax" text-anchor="middle" x="253.1" y="564.0">-2</text>
<line class="tk" x1="315.35" x2="315.35" y1="545.40" y2="550.00"/>
<text class="ax" text-anchor="middle" x="315.4" y="564.0">0</text>
<line class="tk" x1="377.55" x2="377.55" y1="545.40" y2="550.00"/>
<text class="ax" text-anchor="middle" x="377.6" y="564.0">2</text>
<line class="tk" x1="439.80" x2="439.80" y1="545.40" y2="550.00"/>
<text class="ax" text-anchor="middle" x="439.8" y="564.0">4</text>
<line class="tk" x1="464.05" x2="464.05" y1="545.40" y2="550.00"/>
<text class="ax" text-anchor="middle" x="464.1" y="564.0">-5.0</text>
<line class="tk" x1="509.80" x2="509.80" y1="545.40" y2="550.00"/>
<text class="ax" text-anchor="middle" x="509.8" y="564.0">-2.5</text>
<line class="tk" x1="555.60" x2="555.60" y1="545.40" y2="550.00"/>
<text class="ax" text-anchor="middle" x="555.6" y="564.0">0.0</text>
<line class="tk" x1="601.40" x2="601.40" y1="545.40" y2="550.00"/>
<text class="ax" text-anchor="middle" x="601.4" y="564.0">2.5</text>
<line class="tk" x1="647.15" x2="647.15" y1="545.40" y2="550.00"/>
<text class="ax" text-anchor="middle" x="647.1" y="564.0">5.0</text>
</g></svg></body></html>
